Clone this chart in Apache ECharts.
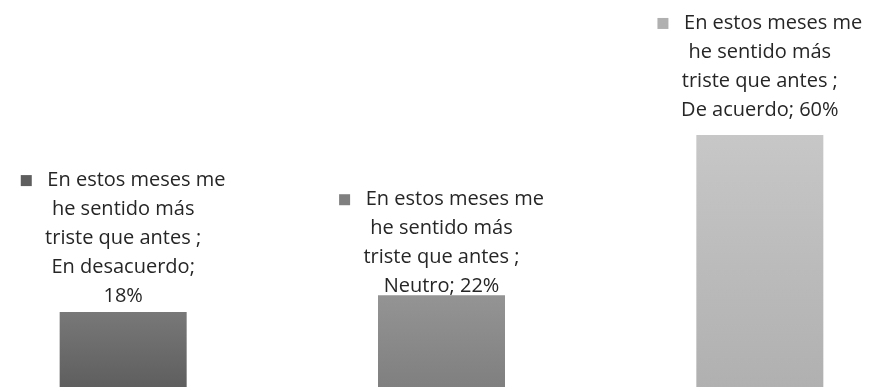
<!DOCTYPE html>
<html>
<head>
<meta charset="utf-8">
<script src="https://cdn.jsdelivr.net/npm/echarts@6/dist/echarts.min.js"></script>
<style>
  html, body { margin: 0; padding: 0; background: #fff; }
  #chart { width: 873px; height: 387px; }
</style>
</head>
<body>
<div id="chart"></div>
<script>
// datos del gráfico
const seriesName = 'En estos meses me he sentido más triste que antes '
const nameLines = ['En estos meses me', 'he sentido más', 'triste que antes ;']
const categories = ['En desacuerdo', 'Neutro', 'De acuerdo']
const values = [18, 22, 60]

// colores de cada barra (arriba / abajo)
const colors = [
  ['#787878', '#5e5e5e'],
  ['#949494', '#7f7f7f'],
  ['#c7c7c7', '#b0b0b0']
]
const labelDist = [1, -6, 10]

const chart = echarts.init(document.getElementById('chart'))

const option = {
  animation: false,
  grid: { left: -36, right: -46, top: 0, bottom: -1, outerBoundsMode: 'none' },
  xAxis: {
    type: 'category',
    data: categories,
    show: false
  },
  yAxis: {
    type: 'value',
    min: 0,
    max: 92,
    show: false
  },
  series: [
    {
      name: seriesName,
      type: 'bar',
      barWidth: 127,
      data: values.map((v, i) => ({
        value: v,
        itemStyle: {
          color: new echarts.graphic.LinearGradient(0, 0, 0, 1, [
            { offset: 0, color: colors[i][0] },
            { offset: 1, color: colors[i][1] }
          ])
        },
        label: {
          distance: labelDist[i],
          rich: {
            m: { width: 11, height: 11, backgroundColor: colors[i][1] }
          }
        }
      })),
      label: {
        show: true,
        position: 'top',
        fontFamily: 'Open Sans',
        fontSize: 20,
        lineHeight: 29,
        color: '#262626',
        align: 'center',
        formatter: (p) => {
          const last = p.name.length > 10
            ? p.name + ';\n' + p.value + '%'
            : p.name + '; ' + p.value + '%'
          return '{m|}   ' + nameLines.join('\n') + '\n' + last
        }
      }
    }
  ]
}

option && chart.setOption(option)
</script>
</body>
</html>
